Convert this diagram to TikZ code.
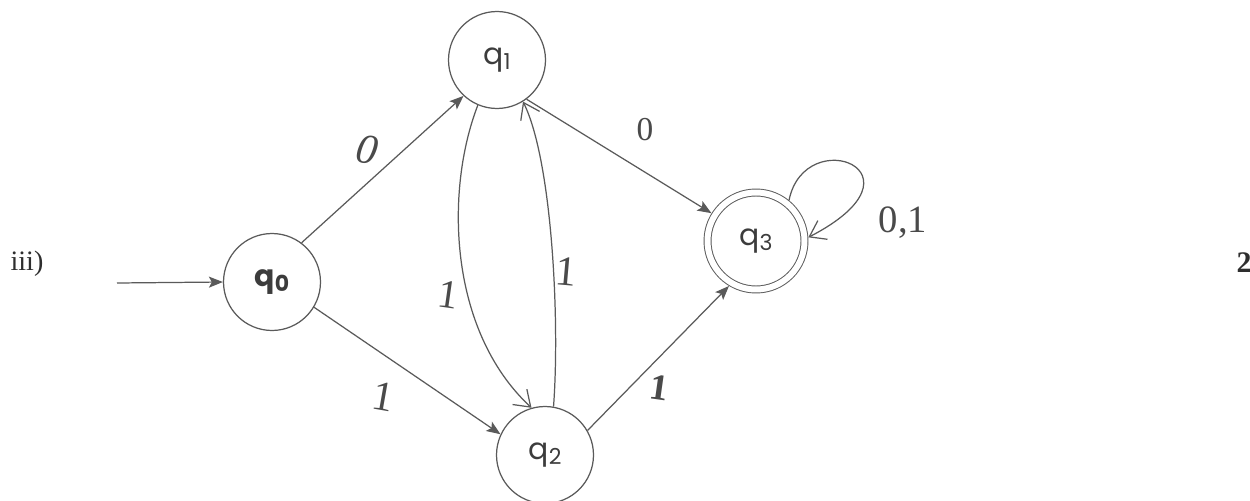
\documentclass[tikz,border=0pt]{standalone}
\usepackage{fontspec}
\setmainfont{Liberation Serif}
\newfontfamily\qfont{Poppins}
\usetikzlibrary{arrows.meta}
\definecolor{ink}{HTML}{5A5A5A}
\definecolor{qcol}{HTML}{3C3C3C}
\definecolor{hand}{HTML}{4A4A4A}
\definecolor{print}{HTML}{2E2E2E}
\newcommand{\qlab}[2]{{\qfont\fontsize{17}{17}\selectfont q\raisebox{-0.3ex}{\fontsize{12.5}{12.5}\selectfont #2}}}
\tikzset{
  state/.style={circle, draw=ink, line width=0.7pt, minimum size=1.94cm,
    inner sep=0pt, text=qcol},
  accept/.style={state, double, double distance=0.12cm, line width=0.55pt,
    outer sep=0.08cm},
  edge/.style={draw=ink, line width=0.7pt,
    -{Stealth[length=0.28cm, width=0.22cm, inset=0.06cm]}},
  handedge/.style={draw=ink, line width=0.7pt,
    -{Straight Barb[length=0.3cm, width=0.42cm, line width=0.7pt]}},
  handlab/.style={text=hand, inner sep=0pt},
}
\begin{document}
\begin{tikzpicture}[x=0.02cm, y=-0.02cm]
\useasboundingbox (0,0) rectangle (1250,500);
\fill[white] (0,0) rectangle (1250,500);

% item number and marks
\node[text=print, inner sep=0pt, font=\fontsize{16}{16}\selectfont] (num) at (27,264) {iii)};
\node[text=print, inner sep=0pt, font=\fontsize{17}{17}\selectfont\bfseries, anchor=east] (marks) at (1252,263) {2};

% states
\node[state] (q0) at (272,282) {\bfseries\qlab{q}{0}};
\node[state] (q1) at (497,60) {\qlab{q}{1}};
\node[state] (q2) at (545,455) {\qlab{q}{2}};
\node[accept] (q3) at (756,241) {\qlab{q}{3}};

% start arrow
\coordinate (start) at (117,283);
\draw[edge] (start) -- (q0.180);

% straight transitions
\draw[edge] (q0.53) -- (q1.-133);
\draw[edge] (q0.-31) -- (q2.155);
\draw[edge] (q1.-53) -- (q3.148);
\draw[edge] (q2.30) -- (q3.-121);

% the two bowed transitions between q1 and q2
\draw[handedge] (q1.-113) .. controls (445,190) and (448,330) .. (q2.106);
\draw[handedge] (q2.80) .. controls (560,320) and (552,160) .. (q1.-58);

% self loop on q3
\draw[handedge] (q3.51) .. controls (805,122) and (935,172) .. (q3.4);

% transition labels
\node[handlab, font=\fontsize{24}{24}\selectfont\itshape, rotate=-10] (l01) at (367,150) {0};
\node[handlab, font=\fontsize{19}{19}\selectfont] (l13) at (645,130) {0};
\node[handlab, font=\fontsize{23}{23}\selectfont, rotate=-8] (l12) at (448,295) {1};
\node[handlab, font=\fontsize{24}{24}\selectfont, rotate=-5] (l21) at (566,272) {1};
\node[handlab, font=\fontsize{24}{24}\selectfont, rotate=-10] (l02) at (383,397) {1};
\node[handlab, font=\fontsize{21}{21}\selectfont\bfseries, rotate=-8] (l23) at (659,388) {1};
\node[handlab, font=\fontsize{22}{22}\selectfont] (l33) at (903,223) {0,1};
\end{tikzpicture}
\end{document}
